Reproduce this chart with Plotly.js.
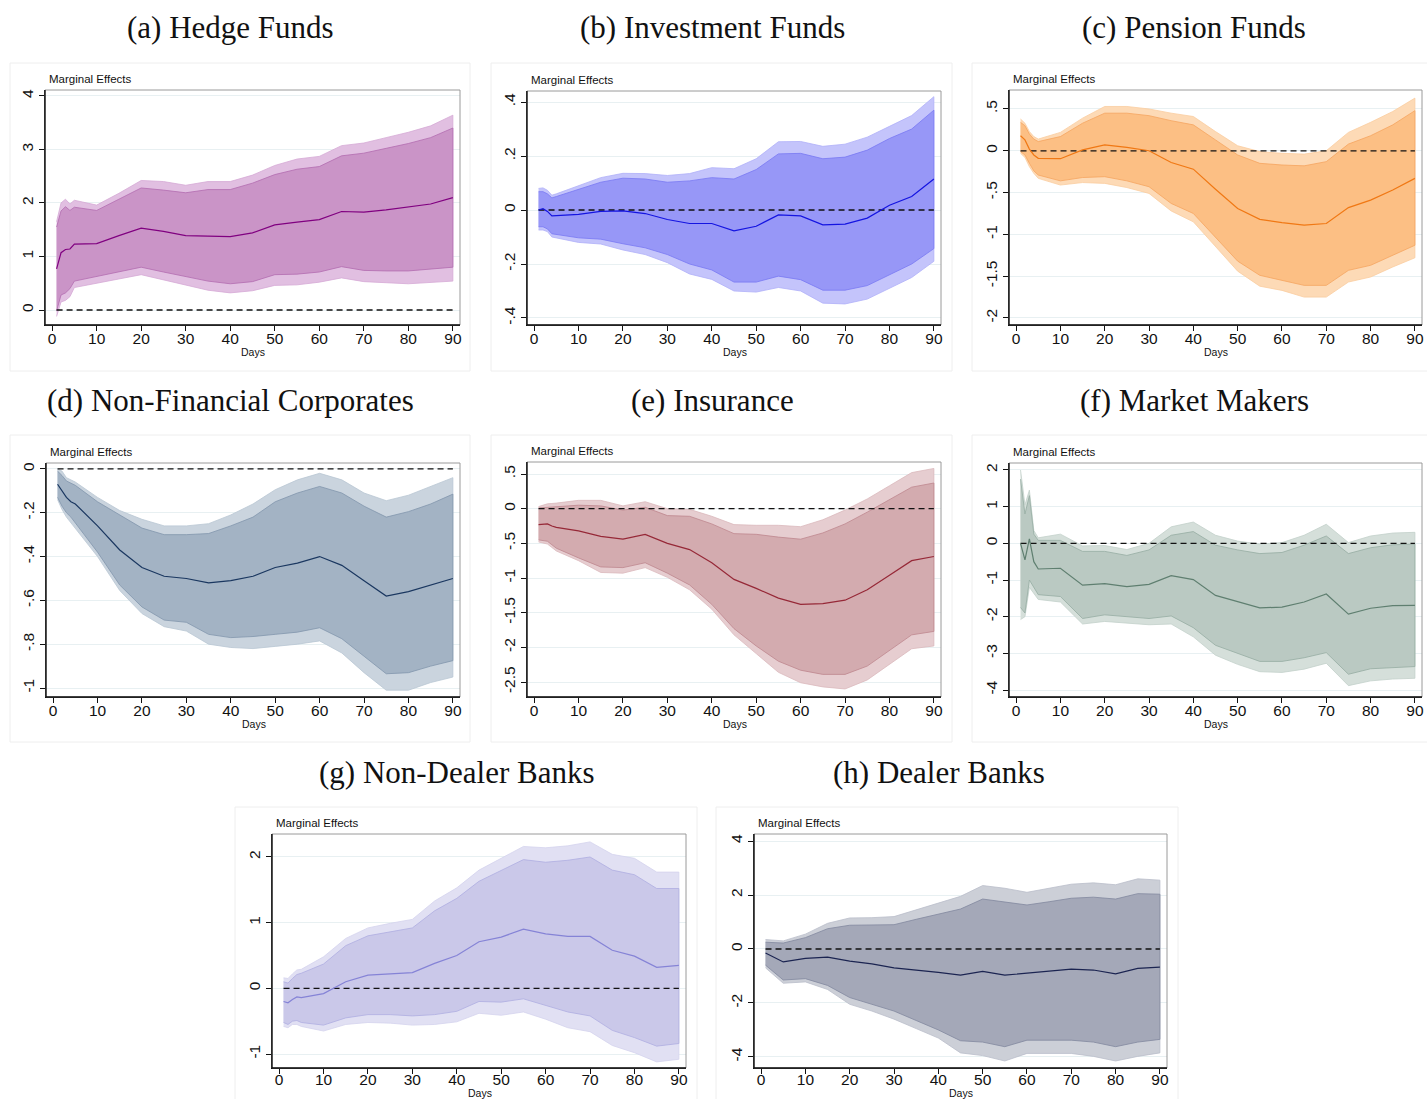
<!DOCTYPE html>
<html>
<head>
<meta charset="utf-8">
<script src="https://cdn.plot.ly/plotly-3.0.1.min.js"></script>
<style>
html,body{margin:0;padding:0;background:#fff;}
#chart{width:1427px;height:1099px;}
</style>
</head>
<body>
<div id="chart"></div>
<script>
// ---------------- DATA ----------------
const days  = [1,2,3,4,5,10,15,20,25,30,35,40,45,50,55,60,65,70,75,80,85,90];
const daysH = [1,5,10,15,20,25,30,35,40,45,50,55,60,65,70,75,80,85,90];
const xTicks = [0,10,20,30,40,50,60,70,80,90];

// (a) Hedge Funds
const aMid  = [0.77,1.07,1.13,1.14,1.23,1.24,1.39,1.53,1.47,1.39,1.38,1.37,1.44,1.59,1.64,1.69,1.84,1.83,1.87,1.92,1.98,2.10];
const aHi90 = [1.55,1.85,1.93,1.86,1.92,1.86,2.07,2.28,2.24,2.19,2.25,2.25,2.37,2.53,2.63,2.68,2.88,2.93,3.02,3.11,3.22,3.40];
const aHi95 = [1.65,2.00,2.07,1.98,2.05,1.96,2.18,2.42,2.40,2.33,2.40,2.40,2.52,2.70,2.82,2.87,3.07,3.12,3.22,3.32,3.44,3.64];
const aLo90 = [-0.02,0.28,0.32,0.40,0.54,0.62,0.71,0.80,0.71,0.62,0.54,0.49,0.53,0.66,0.67,0.71,0.81,0.74,0.73,0.73,0.76,0.80];
const aLo95 = [-0.12,0.15,0.18,0.25,0.42,0.50,0.58,0.66,0.56,0.47,0.37,0.32,0.36,0.46,0.47,0.52,0.60,0.53,0.51,0.49,0.52,0.54];

// (b) Investment Funds
const bMid  = [0.0,0.005,-0.005,-0.022,-0.021,-0.016,-0.005,-0.003,-0.013,-0.035,-0.05,-0.05,-0.077,-0.06,-0.018,-0.022,-0.055,-0.052,-0.03,0.018,0.05,0.115];
const bHi90 = [0.068,0.068,0.06,0.045,0.05,0.077,0.103,0.118,0.115,0.103,0.108,0.12,0.115,0.15,0.208,0.21,0.19,0.196,0.222,0.265,0.30,0.37];
const bHi95 = [0.08,0.082,0.073,0.055,0.06,0.09,0.12,0.136,0.135,0.128,0.135,0.157,0.153,0.19,0.253,0.254,0.236,0.244,0.27,0.31,0.35,0.42];
const bLo90 = [-0.062,-0.062,-0.07,-0.088,-0.09,-0.103,-0.108,-0.125,-0.14,-0.165,-0.2,-0.222,-0.267,-0.267,-0.245,-0.258,-0.297,-0.297,-0.28,-0.24,-0.2,-0.143];
const bLo95 = [-0.074,-0.074,-0.08,-0.1,-0.102,-0.12,-0.126,-0.148,-0.165,-0.195,-0.237,-0.257,-0.3,-0.304,-0.287,-0.3,-0.345,-0.348,-0.33,-0.29,-0.25,-0.19];

// (c) Pension Funds
const cMid  = [0.18,0.13,0.02,-0.05,-0.09,-0.095,0.01,0.07,0.04,0.0,-0.14,-0.22,-0.46,-0.69,-0.82,-0.86,-0.89,-0.87,-0.68,-0.59,-0.47,-0.33];
const cHi90 = [0.34,0.30,0.20,0.14,0.11,0.17,0.33,0.45,0.45,0.42,0.36,0.31,0.13,-0.05,-0.15,-0.17,-0.18,-0.13,0.08,0.18,0.31,0.48];
const cHi95 = [0.38,0.33,0.23,0.17,0.14,0.22,0.39,0.53,0.53,0.50,0.45,0.41,0.23,0.06,-0.01,-0.03,-0.04,0.0,0.22,0.34,0.47,0.63];
const cLo90 = [-0.01,-0.05,-0.15,-0.24,-0.29,-0.36,-0.32,-0.31,-0.36,-0.43,-0.63,-0.75,-1.04,-1.32,-1.49,-1.55,-1.61,-1.61,-1.43,-1.37,-1.25,-1.13];
const cLo95 = [-0.03,-0.08,-0.19,-0.27,-0.33,-0.41,-0.38,-0.39,-0.44,-0.51,-0.72,-0.85,-1.15,-1.44,-1.62,-1.67,-1.75,-1.75,-1.57,-1.51,-1.39,-1.28];

// (d) Non-Financial Corporates
const dMid  = [-0.07,-0.10,-0.13,-0.15,-0.16,-0.26,-0.37,-0.45,-0.49,-0.50,-0.52,-0.51,-0.49,-0.45,-0.43,-0.40,-0.44,-0.51,-0.58,-0.56,-0.53,-0.50];
const dHi90 = [-0.01,-0.03,-0.055,-0.065,-0.075,-0.15,-0.21,-0.27,-0.30,-0.30,-0.295,-0.26,-0.22,-0.15,-0.11,-0.08,-0.11,-0.17,-0.22,-0.195,-0.16,-0.115];
const dHi95 = [0.0,-0.01,-0.04,-0.05,-0.06,-0.13,-0.19,-0.23,-0.26,-0.26,-0.25,-0.21,-0.16,-0.095,-0.05,-0.02,-0.05,-0.11,-0.145,-0.12,-0.08,-0.04];
const dLo90 = [-0.13,-0.17,-0.20,-0.22,-0.245,-0.38,-0.53,-0.63,-0.69,-0.70,-0.755,-0.77,-0.765,-0.755,-0.745,-0.725,-0.775,-0.855,-0.935,-0.93,-0.90,-0.875];
const dLo95 = [-0.14,-0.185,-0.22,-0.245,-0.27,-0.40,-0.555,-0.66,-0.72,-0.74,-0.80,-0.815,-0.82,-0.81,-0.80,-0.785,-0.84,-0.93,-1.01,-1.01,-0.975,-0.95];

// (e) Insurance
const eMid  = [-0.23,-0.225,-0.22,-0.25,-0.27,-0.32,-0.40,-0.44,-0.37,-0.50,-0.59,-0.78,-1.02,-1.15,-1.29,-1.38,-1.37,-1.32,-1.17,-0.96,-0.75,-0.69];
const eHi90 = [0.01,0.015,0.02,0.02,0.02,0.05,0.04,-0.02,0.02,-0.10,-0.11,-0.22,-0.36,-0.37,-0.41,-0.44,-0.35,-0.22,-0.05,0.13,0.31,0.37];
const eHi95 = [0.03,0.05,0.07,0.075,0.08,0.12,0.12,0.04,0.10,0.0,-0.01,-0.11,-0.23,-0.24,-0.24,-0.26,-0.16,-0.02,0.14,0.33,0.52,0.58];
const eLo90 = [-0.45,-0.46,-0.47,-0.52,-0.57,-0.71,-0.84,-0.85,-0.78,-0.93,-1.10,-1.38,-1.73,-1.98,-2.20,-2.33,-2.39,-2.39,-2.27,-2.05,-1.82,-1.77];
const eLo95 = [-0.48,-0.495,-0.51,-0.56,-0.61,-0.75,-0.92,-0.93,-0.85,-0.99,-1.17,-1.45,-1.82,-2.09,-2.36,-2.51,-2.57,-2.60,-2.47,-2.25,-2.02,-1.98];

// (f) Market Makers
const fMid  = [0.0,-0.45,0.12,-0.5,-0.7,-0.68,-1.14,-1.10,-1.18,-1.12,-0.88,-0.99,-1.42,-1.60,-1.76,-1.74,-1.60,-1.38,-1.93,-1.77,-1.70,-1.69];
const fHi90 = [1.75,0.8,1.3,0.25,0.08,0.08,-0.22,-0.22,-0.33,-0.18,0.22,0.32,-0.05,-0.18,-0.28,-0.25,-0.05,0.2,-0.28,-0.12,-0.04,-0.02];
const fHi95 = [2.0,1.05,1.45,0.35,0.15,0.25,-0.07,-0.06,-0.17,0.0,0.45,0.58,0.22,0.06,-0.02,0.02,0.22,0.52,0.02,0.2,0.28,0.3];
const fLo90 = [-1.75,-1.9,-1.0,-1.2,-1.4,-1.45,-2.05,-1.95,-2.0,-2.05,-1.98,-2.3,-2.78,-3.0,-3.22,-3.22,-3.12,-2.98,-3.57,-3.42,-3.38,-3.36];
const fLo95 = [-2.08,-2.0,-1.2,-1.35,-1.53,-1.6,-2.2,-2.13,-2.18,-2.22,-2.2,-2.55,-3.05,-3.3,-3.5,-3.52,-3.43,-3.27,-3.88,-3.75,-3.7,-3.68];

// (g) Non-Dealer Banks
const gMid  = [-0.2,-0.22,-0.17,-0.13,-0.14,-0.08,0.1,0.2,0.22,0.24,0.38,0.5,0.71,0.78,0.9,0.83,0.79,0.79,0.58,0.49,0.32,0.35];
const gHi90 = [0.1,0.08,0.15,0.21,0.23,0.37,0.65,0.8,0.86,0.92,1.18,1.37,1.63,1.79,1.96,1.92,1.95,2.0,1.8,1.73,1.52,1.52];
const gHi95 = [0.16,0.15,0.22,0.28,0.29,0.48,0.76,0.92,0.99,1.05,1.33,1.53,1.8,1.98,2.16,2.14,2.17,2.23,2.04,1.98,1.77,1.77];
const gLo90 = [-0.52,-0.55,-0.5,-0.49,-0.52,-0.56,-0.45,-0.4,-0.4,-0.42,-0.4,-0.35,-0.2,-0.21,-0.16,-0.26,-0.36,-0.42,-0.64,-0.75,-0.88,-0.84];
const gLo95 = [-0.58,-0.6,-0.55,-0.55,-0.58,-0.65,-0.55,-0.52,-0.53,-0.56,-0.55,-0.51,-0.38,-0.41,-0.36,-0.47,-0.6,-0.66,-0.87,-0.98,-1.12,-1.08];

// (h) Dealer Banks
const hMid  = [-0.15,-0.48,-0.35,-0.3,-0.45,-0.55,-0.7,-0.78,-0.87,-0.97,-0.83,-0.97,-0.9,-0.82,-0.75,-0.78,-0.92,-0.72,-0.67];
const hHi90 = [0.25,0.22,0.42,0.75,0.88,0.88,0.9,1.1,1.3,1.48,1.85,1.75,1.63,1.75,1.88,1.92,1.85,2.05,2.03];
const hHi95 = [0.35,0.3,0.55,0.95,1.15,1.16,1.2,1.45,1.7,1.95,2.35,2.25,2.1,2.25,2.4,2.45,2.38,2.6,2.55];
const hLo90 = [-0.6,-1.15,-1.1,-1.35,-1.8,-2.05,-2.3,-2.65,-3.0,-3.4,-3.45,-3.62,-3.38,-3.38,-3.38,-3.45,-3.62,-3.45,-3.35];
const hLo95 = [-0.7,-1.27,-1.22,-1.5,-2.05,-2.3,-2.6,-2.95,-3.3,-3.85,-3.95,-4.15,-3.87,-3.87,-3.87,-3.98,-4.15,-3.98,-3.85];

// titles & y tick labels
const titles = ['(a) Hedge Funds','(b) Investment Funds','(c) Pension Funds','(d) Non-Financial Corporates','(e) Insurance','(f) Market Makers','(g) Non-Dealer Banks','(h) Dealer Banks'];
const aTicks = [0,1,2,3,4],            aTickText = ['0','1','2','3','4'];
const bTicks = [-0.4,-0.2,0,0.2,0.4],  bTickText = ['-.4','-.2','0','.2','.4'];
const cTicks = [-2,-1.5,-1,-0.5,0,0.5],cTickText = ['-2','-1.5','-1','-.5','0','.5'];
const dTicks = [-1,-0.8,-0.6,-0.4,-0.2,0], dTickText = ['-1','-.8','-.6','-.4','-.2','0'];
const eTicks = [-2.5,-2,-1.5,-1,-0.5,0,0.5], eTickText = ['-2.5','-2','-1.5','-1','-.5','0','.5'];
const fTicks = [-4,-3,-2,-1,0,1,2],    fTickText = ['-4','-3','-2','-1','0','1','2'];
const gTicks = [-1,0,1,2],             gTickText = ['-1','0','1','2'];
const hTicks = [-4,-2,0,2,4],          hTickText = ['-4','-2','0','2','4'];

// ---------------- LAYOUT / STYLE ----------------
const W = 1427, H = 1099;
const fx = p => p / W;
const fy = p => 1 - p / H;

const panels = [
  {x:days, mid:aMid, h90:aHi90, h95:aHi95, l90:aLo90, l95:aLo95, tv:aTicks, tt:aTickText,
   box:[45,460,90,325], yr:[-0.28,4.11], tpos:[230,28], region:[10,470,63,371], daysY:352, so:-6,
   c:{o:'rgb(225,191,225)', oe:'rgb(214,170,214)', i:'rgb(202,148,199)', ie:'rgb(178,108,176)', l:'rgb(128,0,128)'}},
  {x:days, mid:bMid, h90:bHi90, h95:bHi95, l90:bLo90, l95:bLo95, tv:bTicks, tt:bTickText,
   box:[527,941,91,325], yr:[-0.426,0.441], tpos:[712,28], region:[491,952,63,371], daysY:352, so:-6,
   c:{o:'rgb(196,196,251)', oe:'rgb(176,176,249)', i:'rgb(151,151,247)', ie:'rgb(120,120,242)', l:'rgb(20,20,225)'}},
  {x:days, mid:cMid, h90:cHi90, h95:cHi95, l90:cLo90, l95:cLo95, tv:cTicks, tt:cTickText,
   box:[1009,1422,90,325], yr:[-2.084,0.727], tpos:[1194,28], region:[972,1440,63,371], daysY:352, so:-6,
   c:{o:'rgb(253,218,182)', oe:'rgb(250,205,160)', i:'rgb(252,191,132)', ie:'rgb(245,165,95)', l:'rgb(240,120,20)'}},
  {x:days, mid:dMid, h90:dHi90, h95:dHi95, l90:dLo90, l95:dLo95, tv:dTicks, tt:dTickText,
   box:[46,460,463,697], yr:[-1.041,0.027], tpos:[230,400], region:[10,470,435,742], daysY:724, so:-6,
   c:{o:'rgb(202,212,222)', oe:'rgb(185,198,211)', i:'rgb(163,179,196)', ie:'rgb(130,150,172)', l:'rgb(26,55,96)'}},
  {x:days, mid:eMid, h90:eHi90, h95:eHi95, l90:eLo90, l95:eLo95, tv:eTicks, tt:eTickText,
   box:[527,941,462,697], yr:[-2.716,0.673], tpos:[712,400], region:[491,952,435,742], daysY:724, so:-6,
   c:{o:'rgb(230,205,208)', oe:'rgb(218,185,189)', i:'rgb(211,171,175)', ie:'rgb(190,135,142)', l:'rgb(150,40,55)'}},
  {x:days, mid:fMid, h90:fHi90, h95:fHi95, l90:fLo90, l95:fLo95, tv:fTicks, tt:fTickText,
   box:[1009,1422,463,697], yr:[-4.19,2.19], tpos:[1194,400], region:[972,1440,435,742], daysY:724, so:-6,
   c:{o:'rgb(213,223,218)', oe:'rgb(195,209,202)', i:'rgb(186,201,194)', ie:'rgb(150,172,162)', l:'rgb(95,127,112)'}},
  {x:days, mid:gMid, h90:gHi90, h95:gHi95, l90:gLo90, l95:gLo95, tv:gTicks, tt:gTickText,
   box:[272,686,834,1068], yr:[-1.213,2.35], tpos:[457,772], region:[235,697,807,1110], daysY:1093, so:-8,
   c:{o:'rgb(225,224,243)', oe:'rgb(212,211,238)', i:'rgb(202,200,233)', ie:'rgb(175,173,225)', l:'rgb(133,131,214)'}},
  {x:daysH, mid:hMid, h90:hHi90, h95:hHi95, l90:hLo90, l95:hLo95, tv:hTicks, tt:hTickText,
   box:[754,1167,834,1068], yr:[-4.41,4.26], tpos:[939,772], region:[716,1178,807,1110], daysY:1093, so:-8,
   c:{o:'rgb(204,207,215)', oe:'rgb(186,190,202)', i:'rgb(164,168,184)', ie:'rgb(130,136,158)', l:'rgb(27,36,81)'}}
];

const traces = [];
const layout = {
  width: W, height: H,
  margin: {l:0, r:0, t:0, b:0},
  paper_bgcolor: '#fff', plot_bgcolor: '#fff',
  showlegend: false,
  font: {family: 'Liberation Sans, Arial, sans-serif', color: '#111'},
  annotations: [], shapes: []
};

const sans = 'Liberation Sans, Arial, sans-serif';
const serif = 'Liberation Serif, Times New Roman, serif';

panels.forEach((p, k) => {
  const n = k + 1;
  const xa = n === 1 ? 'x' : 'x' + n;
  const ya = n === 1 ? 'y' : 'y' + n;
  const xk = n === 1 ? 'xaxis' : 'xaxis' + n;
  const yk = n === 1 ? 'yaxis' : 'yaxis' + n;
  const [L, R, T, B] = p.box;

  const [gl, gr, gt, gb] = p.region;
  layout.shapes.push({type:'rect', xref:'paper', yref:'paper', x0:fx(gl), x1:fx(gr), y0:fy(gb), y1:fy(gt),
    line:{color:'#eeeeee', width:1}, layer:'below'});

  const rev = a => a.slice().reverse();
  traces.push({x: p.x.concat(rev(p.x)), y: p.h95.concat(rev(p.l95)), xaxis:xa, yaxis:ya,
    type:'scatter', mode:'lines', fill:'toself', fillcolor:p.c.o, line:{color:p.c.oe, width:0.8}, hoverinfo:'skip'});
  traces.push({x: p.x.concat(rev(p.x)), y: p.h90.concat(rev(p.l90)), xaxis:xa, yaxis:ya,
    type:'scatter', mode:'lines', fill:'toself', fillcolor:p.c.i, line:{color:p.c.ie, width:0.8}, hoverinfo:'skip'});
  traces.push({x:[1, 90], y:[0, 0], xaxis:xa, yaxis:ya, type:'scatter', mode:'lines',
    line:{color:'#111', width:1.3, dash:'6px,4px'}, hoverinfo:'skip'});
  traces.push({x: p.x, y: p.mid, xaxis:xa, yaxis:ya, type:'scatter', mode:'lines',
    line:{color:p.c.l, width:1.2}});

  layout[xk] = {
    domain:[fx(L), fx(R)], anchor: ya, range:[-1.6, 91.6],
    tickvals: xTicks, ticks:'outside', ticklen:5, tickwidth:1, tickcolor:'#111',
    ticklabelstandoff: p.so,
    showline:true, linecolor:'#111', linewidth:1.3, mirror:false,
    showgrid:false, zeroline:false,
    tickfont:{family:sans, size:15.5, color:'#111'}
  };
  layout[yk] = {
    domain:[fy(B), fy(T)], anchor: xa, range: p.yr,
    tickvals: p.tv, ticktext: p.tt, tickangle:-90,
    ticks:'outside', ticklen:5, tickwidth:1, tickcolor:'#111',
    showline:true, linecolor:'#111', linewidth:1.3, mirror:false,
    showgrid:true, gridcolor:'#e8f0f2', gridwidth:1, zeroline:false,
    tickfont:{family:sans, size:15.5, color:'#111'}
  };

  layout.shapes.push({type:'rect', xref:'paper', yref:'paper', x0:fx(L), x1:fx(R), y0:fy(B), y1:fy(T),
    line:{color:'#9a9a9a', width:1}, layer:'above'});
  layout.shapes.push({type:'line', xref:'paper', yref:'paper', x0:fx(L), x1:fx(L), y0:fy(B), y1:fy(T),
    line:{color:'#111', width:1.3}, layer:'above'});
  layout.shapes.push({type:'line', xref:'paper', yref:'paper', x0:fx(L), x1:fx(R), y0:fy(B), y1:fy(B),
    line:{color:'#111', width:1.3}, layer:'above'});

  layout.annotations.push({text:titles[k], xref:'paper', yref:'paper', x:fx(p.tpos[0]), y:fy(p.tpos[1]),
    xanchor:'center', yanchor:'middle', showarrow:false, font:{family:serif, size:31, color:'#111'}});
  layout.annotations.push({text:'Marginal Effects', xref:'paper', yref:'paper', x:fx(L + 2), y:fy(T - 3),
    xanchor:'left', yanchor:'bottom', showarrow:false, font:{family:sans, size:11.5, color:'#111'}});
  layout.annotations.push({text:'Days', xref:'paper', yref:'paper', x:fx((L + R) / 2 + 0.5), y:fy(p.daysY),
    xanchor:'center', yanchor:'middle', showarrow:false, font:{family:sans, size:10.5, color:'#111'}});
});

Plotly.newPlot('chart', traces, layout, {displayModeBar:false, staticPlot:true});
</script>
</body>
</html>
